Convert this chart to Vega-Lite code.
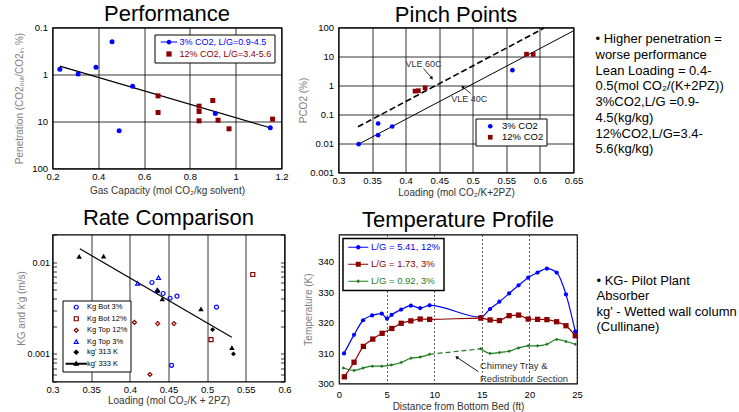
{
  "$schema": "https://vega.github.io/schema/vega-lite/v6.json",
  "padding": {"left": 13.5, "top": 1.5, "right": 0, "bottom": 0},
  "background": "white",
  "spacing": 7,
  "datasets": {
    "perf": [
      {"gc": 0.232, "pen": 0.77, "series": "3% CO2, L/G=0.9-4.5"},
      {"gc": 0.312, "pen": 0.97, "series": "3% CO2, L/G=0.9-4.5"},
      {"gc": 0.39, "pen": 0.70, "series": "3% CO2, L/G=0.9-4.5"},
      {"gc": 0.46, "pen": 0.20, "series": "3% CO2, L/G=0.9-4.5"},
      {"gc": 0.55, "pen": 1.77, "series": "3% CO2, L/G=0.9-4.5"},
      {"gc": 0.491, "pen": 15.8, "series": "3% CO2, L/G=0.9-4.5"},
      {"gc": 0.911, "pen": 6.76, "series": "3% CO2, L/G=0.9-4.5"},
      {"gc": 1.151, "pen": 13.6, "series": "3% CO2, L/G=0.9-4.5"},
      {"gc": 0.661, "pen": 2.85, "series": "12% CO2, L/G=3.4-5.6"},
      {"gc": 0.661, "pen": 6.44, "series": "12% CO2, L/G=3.4-5.6"},
      {"gc": 0.84, "pen": 4.72, "series": "12% CO2, L/G=3.4-5.6"},
      {"gc": 0.84, "pen": 6.12, "series": "12% CO2, L/G=3.4-5.6"},
      {"gc": 0.84, "pen": 9.68, "series": "12% CO2, L/G=3.4-5.6"},
      {"gc": 0.90, "pen": 3.57, "series": "12% CO2, L/G=3.4-5.6"},
      {"gc": 0.923, "pen": 9.37, "series": "12% CO2, L/G=3.4-5.6"},
      {"gc": 0.971, "pen": 14.3, "series": "12% CO2, L/G=3.4-5.6"},
      {"gc": 1.161, "pen": 8.9, "series": "12% CO2, L/G=3.4-5.6"}
    ],
    "rate": [
      {"load": 0.4286, "k": 0.0060, "series": "Kg Bot 3%"},
      {"load": 0.443, "k": 0.00455, "series": "Kg Bot 3%"},
      {"load": 0.452, "k": 0.00404, "series": "Kg Bot 3%"},
      {"load": 0.461, "k": 0.00426, "series": "Kg Bot 3%"},
      {"load": 0.512, "k": 0.00323, "series": "Kg Bot 3%"},
      {"load": 0.454, "k": 0.00075, "series": "Kg Bot 3%"},
      {"load": 0.559, "k": 0.00733, "series": "Kg Bot 12%"},
      {"load": 0.505, "k": 0.00143, "series": "Kg Bot 12%"},
      {"load": 0.406, "k": 0.0022, "series": "Kg Top 12%"},
      {"load": 0.436, "k": 0.00214, "series": "Kg Top 12%"},
      {"load": 0.457, "k": 0.00214, "series": "Kg Top 12%"},
      {"load": 0.426, "k": 0.000596, "series": "Kg Top 12%"},
      {"load": 0.41, "k": 0.00585, "series": "Kg Top 3%"},
      {"load": 0.437, "k": 0.00675, "series": "Kg Top 3%"},
      {"load": 0.435, "k": 0.0049, "series": "Kg Top 3%"},
      {"load": 0.436, "k": 0.00483, "series": "kg' 313 K"},
      {"load": 0.507, "k": 0.00184, "series": "kg' 313 K"},
      {"load": 0.534, "k": 0.001, "series": "kg' 313 K"},
      {"load": 0.3345, "k": 0.01153, "series": "kg' 333 K"},
      {"load": 0.366, "k": 0.0116, "series": "kg' 333 K"},
      {"load": 0.436, "k": 0.00499, "series": "kg' 333 K"},
      {"load": 0.442, "k": 0.00398, "series": "kg' 333 K"},
      {"load": 0.492, "k": 0.0031, "series": "kg' 333 K"},
      {"load": 0.532, "k": 0.00117, "series": "kg' 333 K"}
    ],
    "temp": [
      {"series": "L/G = 5.41, 12%", "bed": "lower", "d": 0.53, "T": 309.9},
      {"series": "L/G = 5.41, 12%", "bed": "lower", "d": 1.58, "T": 316.0},
      {"series": "L/G = 5.41, 12%", "bed": "lower", "d": 2.53, "T": 320.8},
      {"series": "L/G = 5.41, 12%", "bed": "lower", "d": 3.48, "T": 322.4},
      {"series": "L/G = 5.41, 12%", "bed": "lower", "d": 4.49, "T": 323.0},
      {"series": "L/G = 5.41, 12%", "bed": "lower", "d": 5.04, "T": 321.3},
      {"series": "L/G = 5.41, 12%", "bed": "lower", "d": 5.53, "T": 322.6},
      {"series": "L/G = 5.41, 12%", "bed": "lower", "d": 6.53, "T": 324.3},
      {"series": "L/G = 5.41, 12%", "bed": "lower", "d": 7.55, "T": 325.6},
      {"series": "L/G = 5.41, 12%", "bed": "lower", "d": 8.53, "T": 324.8},
      {"series": "L/G = 5.41, 12%", "bed": "lower", "d": 9.52, "T": 325.7},
      {"series": "L/G = 5.41, 12%", "bed": "upper", "d": 14.89, "T": 321.8},
      {"series": "L/G = 5.41, 12%", "bed": "upper", "d": 15.87, "T": 324.5},
      {"series": "L/G = 5.41, 12%", "bed": "upper", "d": 16.85, "T": 326.9},
      {"series": "L/G = 5.41, 12%", "bed": "upper", "d": 17.87, "T": 329.6},
      {"series": "L/G = 5.41, 12%", "bed": "upper", "d": 18.86, "T": 332.3},
      {"series": "L/G = 5.41, 12%", "bed": "upper", "d": 19.87, "T": 334.8},
      {"series": "L/G = 5.41, 12%", "bed": "upper", "d": 20.86, "T": 336.5},
      {"series": "L/G = 5.41, 12%", "bed": "upper", "d": 21.84, "T": 337.8},
      {"series": "L/G = 5.41, 12%", "bed": "upper", "d": 22.86, "T": 336.5},
      {"series": "L/G = 5.41, 12%", "bed": "upper", "d": 23.84, "T": 329.3},
      {"series": "L/G = 5.41, 12%", "bed": "upper", "d": 24.82, "T": 317.1},
      {"series": "L/G = 1.73, 3%", "bed": "lower", "d": 0.56, "T": 302.2},
      {"series": "L/G = 1.73, 3%", "bed": "lower", "d": 1.58, "T": 307.0},
      {"series": "L/G = 1.73, 3%", "bed": "lower", "d": 2.56, "T": 312.2},
      {"series": "L/G = 1.73, 3%", "bed": "lower", "d": 3.55, "T": 314.6},
      {"series": "L/G = 1.73, 3%", "bed": "lower", "d": 4.53, "T": 316.5},
      {"series": "L/G = 1.73, 3%", "bed": "lower", "d": 5.55, "T": 318.1},
      {"series": "L/G = 1.73, 3%", "bed": "lower", "d": 6.53, "T": 319.8},
      {"series": "L/G = 1.73, 3%", "bed": "lower", "d": 7.55, "T": 320.6},
      {"series": "L/G = 1.73, 3%", "bed": "lower", "d": 8.53, "T": 321.2},
      {"series": "L/G = 1.73, 3%", "bed": "lower", "d": 9.52, "T": 321.1},
      {"series": "L/G = 1.73, 3%", "bed": "upper", "d": 14.89, "T": 321.5},
      {"series": "L/G = 1.73, 3%", "bed": "upper", "d": 15.87, "T": 320.9},
      {"series": "L/G = 1.73, 3%", "bed": "upper", "d": 16.85, "T": 320.7},
      {"series": "L/G = 1.73, 3%", "bed": "upper", "d": 17.87, "T": 322.3},
      {"series": "L/G = 1.73, 3%", "bed": "upper", "d": 18.86, "T": 322.5},
      {"series": "L/G = 1.73, 3%", "bed": "upper", "d": 19.87, "T": 321.2},
      {"series": "L/G = 1.73, 3%", "bed": "upper", "d": 20.86, "T": 321.1},
      {"series": "L/G = 1.73, 3%", "bed": "upper", "d": 21.84, "T": 321.0},
      {"series": "L/G = 1.73, 3%", "bed": "upper", "d": 22.86, "T": 320.3},
      {"series": "L/G = 1.73, 3%", "bed": "upper", "d": 23.84, "T": 319.0},
      {"series": "L/G = 1.73, 3%", "bed": "upper", "d": 24.82, "T": 315.7},
      {"series": "L/G = 0.92, 3%", "bed": "lower", "d": 0.46, "T": 305.1},
      {"series": "L/G = 0.92, 3%", "bed": "lower", "d": 1.58, "T": 304.3},
      {"series": "L/G = 0.92, 3%", "bed": "lower", "d": 2.53, "T": 305.1},
      {"series": "L/G = 0.92, 3%", "bed": "lower", "d": 3.51, "T": 305.7},
      {"series": "L/G = 0.92, 3%", "bed": "lower", "d": 4.49, "T": 305.7},
      {"series": "L/G = 0.92, 3%", "bed": "lower", "d": 5.51, "T": 306.1},
      {"series": "L/G = 0.92, 3%", "bed": "lower", "d": 6.53, "T": 306.9},
      {"series": "L/G = 0.92, 3%", "bed": "lower", "d": 7.55, "T": 308.3},
      {"series": "L/G = 0.92, 3%", "bed": "lower", "d": 8.53, "T": 308.7},
      {"series": "L/G = 0.92, 3%", "bed": "lower", "d": 9.52, "T": 309.6},
      {"series": "L/G = 0.92, 3%", "bed": "upper", "d": 14.89, "T": 311.4},
      {"series": "L/G = 0.92, 3%", "bed": "upper", "d": 15.87, "T": 309.9},
      {"series": "L/G = 0.92, 3%", "bed": "upper", "d": 16.85, "T": 310.2},
      {"series": "L/G = 0.92, 3%", "bed": "upper", "d": 17.87, "T": 310.6},
      {"series": "L/G = 0.92, 3%", "bed": "upper", "d": 18.86, "T": 311.7},
      {"series": "L/G = 0.92, 3%", "bed": "upper", "d": 19.87, "T": 312.4},
      {"series": "L/G = 0.92, 3%", "bed": "upper", "d": 20.86, "T": 312.4},
      {"series": "L/G = 0.92, 3%", "bed": "upper", "d": 21.84, "T": 312.9},
      {"series": "L/G = 0.92, 3%", "bed": "upper", "d": 22.86, "T": 314.5},
      {"series": "L/G = 0.92, 3%", "bed": "upper", "d": 23.84, "T": 313.8},
      {"series": "L/G = 0.92, 3%", "bed": "upper", "d": 24.82, "T": 312.9}
    ]
  },
  "resolve": {"scale": {"color": "independent", "shape": "independent", "fill": "independent", "stroke": "independent", "size": "independent", "strokeDash": "independent"}, "legend": {"color": "independent", "shape": "independent", "fill": "independent", "stroke": "independent", "size": "independent", "strokeDash": "independent"}},
  "config": {
    "font": "Liberation Sans",
    "view": {"stroke": "black", "strokeWidth": 1.2},
    "axis": {
      "labelFont": "Liberation Sans", "labelFontSize": 9.5, "labelColor": "black",
      "titleFont": "Liberation Sans", "titleFontSize": 10, "titleFontWeight": "normal", "titleColor": "#333333",
      "domain": false, "ticks": false, "gridColor": "black", "gridWidth": 0.8, "gridOpacity": 1,
      "labelFlush": false, "labelOverlap": false
    },
    "axisY": {"titleColor": "#808080"},
    "title": {"font": "Liberation Sans", "fontSize": 22, "fontWeight": "normal", "color": "black", "anchor": "middle", "frame": "group", "baseline": "alphabetic"},
    "legend": {"labelFont": "Liberation Sans", "titleFont": "Liberation Sans"}
  },
  "vconcat": [
    {
      "spacing": 8,
      "resolve": {"scale": {"color": "independent", "shape": "independent", "fill": "independent", "stroke": "independent", "size": "independent", "strokeDash": "independent"}, "legend": {"color": "independent", "shape": "independent", "fill": "independent", "stroke": "independent", "size": "independent", "strokeDash": "independent"}},
      "hconcat": [
        {
          "title": {"text": "Performance", "offset": -3},
          "width": 229, "height": 141,
          "encoding": {
            "x": {"field": "gc", "type": "quantitative", "scale": {"domain": [0.2, 1.2], "nice": false, "zero": false},
                  "axis": {"values": [0.2, 0.4, 0.6, 0.8, 1, 1.2], "format": "~g", "title": "Gas Capacity (mol CO₂/kg solvent)", "labelPadding": 3.3, "minExtent": 13, "maxExtent": 13, "titlePadding": 4}},
            "y": {"field": "pen", "type": "quantitative", "scale": {"type": "log", "domain": [0.1, 100], "reverse": true, "nice": false},
                  "axis": {"values": [0.1, 1, 10, 100], "format": "~g", "title": "Penetration (CO2ₒᵤₜ/CO2ᵢₙ %)", "labelPadding": 5, "minExtent": 22, "maxExtent": 22, "titlePadding": 6}}
          },
          "layer": [
            {
              "data": {"values": [{"gc": 0.232, "pen": 0.665}, {"gc": 1.151, "pen": 13.6}]},
              "mark": {"type": "line", "color": "black", "strokeWidth": 1.2}
            },
            {
              "data": {"name": "perf"},
              "mark": {"type": "point", "filled": true, "opacity": 0},
              "encoding": {
                "color": {"field": "series", "type": "nominal",
                  "scale": {"domain": ["3% CO2, L/G=0.9-4.5", "12% CO2, L/G=3.4-5.6"], "range": ["#0000ff", "#8b0000"]},
                  "legend": {"title": null, "orient": "top-right", "offset": 7, "fillColor": "white", "strokeColor": "black", "padding": 3,
                    "labelFontSize": 9, "symbolSize": 25, "symbolOpacity": 1, "symbolStrokeWidth": 0, "symbolOffset": 7, "labelOffset": 6, "rowPadding": 2,
                    "encode": {
                      "labels": {"update": {"fill": {"signal": "datum.value == '3% CO2, L/G=0.9-4.5' ? '#0000ff' : '#8b0000'"}}}
                    }}},
                "shape": {"field": "series", "type": "nominal",
                  "scale": {"domain": ["3% CO2, L/G=0.9-4.5", "12% CO2, L/G=3.4-5.6"],
                    "range": ["M-3.3,-0.2H3.3V0.2H-3.3Z M0.95,0A0.95,0.95,0,1,1,-0.95,0A0.95,0.95,0,1,1,0.95,0Z", "M-1.05,-1.05H1.05V1.05H-1.05Z"]}}
              }
            },
            {
              "data": {"name": "perf"},
              "transform": [{"filter": {"field": "series", "equal": "3% CO2, L/G=0.9-4.5"}}],
              "mark": {"type": "point", "filled": true, "opacity": 1, "size": 25, "shape": "circle", "color": "#0000ff"}
            },
            {
              "data": {"name": "perf"},
              "transform": [{"filter": {"field": "series", "equal": "12% CO2, L/G=3.4-5.6"}}],
              "mark": {"type": "point", "filled": true, "opacity": 1, "size": 25, "shape": "square", "color": "#8b0000"}
            }
          ]
        },
        {
          "title": {"text": "Pinch Points", "offset": -4},
          "width": 235, "height": 145,
          "encoding": {
            "x": {"field": "load", "type": "quantitative", "scale": {"domain": [0.3, 0.65], "nice": false, "zero": false},
                  "axis": {"values": [0.3, 0.35, 0.4, 0.45, 0.5, 0.55, 0.6, 0.65], "format": "~g", "title": "Loading (mol CO₂/K+2PZ)", "labelPadding": 2.5, "minExtent": 12, "maxExtent": 12, "titlePadding": 3}},
            "y": {"field": "p", "type": "quantitative", "scale": {"type": "log", "domain": [0.001, 100], "nice": false},
                  "axis": {"values": [0.001, 0.01, 0.1, 1, 10, 100], "format": "~g", "title": "PCO2 (%)", "labelPadding": 5, "minExtent": 29, "maxExtent": 29, "titlePadding": 1}}
          },
          "layer": [
            {
              "data": {"values": [{"load": 0.33, "p": 0.0095}, {"load": 0.65, "p": 76.7}]},
              "mark": {"type": "line", "color": "black", "strokeWidth": 1}
            },
            {
              "data": {"values": [{"load": 0.329, "p": 0.0376}, {"load": 0.606, "p": 95}]},
              "mark": {"type": "line", "color": "black", "strokeWidth": 1.6, "strokeDash": [6, 3]}
            },
            {
              "data": {"values": [
                {"load": 0.4266, "p": 3.85, "load2": 0.439, "p2": 1.79},
                {"load": 0.497, "p": 0.53, "load2": 0.4847, "p2": 0.90}
              ]},
              "mark": {"type": "rule", "color": "black", "strokeWidth": 0.8},
              "encoding": {"x2": {"field": "load2"}, "y2": {"field": "p2"}}
            },
            {
              "data": {"values": [{"load": 0.439, "p": 1.79}]},
              "mark": {"type": "point", "shape": "triangle-up", "filled": true, "color": "black", "opacity": 1, "size": 14, "angle": 139}
            },
            {
              "data": {"values": [{"load": 0.4847, "p": 0.90}]},
              "mark": {"type": "point", "shape": "triangle-up", "filled": true, "color": "black", "opacity": 1, "size": 14, "angle": 309}
            },
            {
              "data": {"values": [
                {"load": 0.4266, "p": 5.45, "label": "VLE 60C"},
                {"load": 0.4946, "p": 0.338, "label": "VLE 40C"}
              ]},
              "mark": {"type": "text", "fontSize": 9, "color": "#333333", "align": "center", "baseline": "middle"},
              "encoding": {"text": {"field": "label"}}
            },
            {
              "data": {"values": [
                {"load": 0.330, "p": 0.0095, "series": "3% CO2"},
                {"load": 0.359, "p": 0.049, "series": "3% CO2"},
                {"load": 0.359, "p": 0.0194, "series": "3% CO2"},
                {"load": 0.380, "p": 0.0386, "series": "3% CO2"},
                {"load": 0.559, "p": 3.38, "series": "3% CO2"},
                {"load": 0.414, "p": 0.64, "series": "12% CO2"},
                {"load": 0.419, "p": 0.66, "series": "12% CO2"},
                {"load": 0.429, "p": 0.83, "series": "12% CO2"},
                {"load": 0.580, "p": 12.0, "series": "12% CO2"},
                {"load": 0.590, "p": 11.8, "series": "12% CO2"}
              ]},
              "mark": {"type": "point", "filled": true, "opacity": 1, "size": 22},
              "encoding": {
                "color": {"field": "series", "type": "nominal",
                  "scale": {"domain": ["3% CO2", "12% CO2"], "range": ["#0000ff", "#8b0000"]},
                  "legend": {"title": null, "orient": "bottom-right", "offset": 27, "fillColor": "white", "strokeColor": "black", "padding": 3,
                    "labelFontSize": 9.5, "symbolSize": 22, "symbolOffset": 7, "labelOffset": 7, "rowPadding": 0,
                    "encode": {
                      "labels": {"update": {"fill": {"signal": "datum.value == '3% CO2' ? '#0000ff' : '#8b0000'"}}}
                    }}},
                "shape": {"field": "series", "type": "nominal",
                  "scale": {"domain": ["3% CO2", "12% CO2"], "range": ["circle", "square"]}, "legend": null}
              }
            }
          ]
        },
        {
          "width": 140, "height": 150,
          "view": {"stroke": null},
          "data": {"values": [
            {"line": 0, "text": "• Higher penetration ="},
            {"line": 1, "text": "worse performance"},
            {"line": 2, "text": "\u00a0Lean Loading = 0.4-"},
            {"line": 3, "text": "0.5(mol CO₂/(K+2PZ))"},
            {"line": 4, "text": "\u00a03%CO2,L/G =0.9-"},
            {"line": 5, "text": "4.5(kg/kg)"},
            {"line": 6, "text": "\u00a012%CO2,L/G=3.4-"},
            {"line": 7, "text": "5.6(kg/kg)"}
          ]},
          "mark": {"type": "text", "align": "left", "baseline": "middle", "fontSize": 13, "font": "Liberation Sans", "color": "black", "dx": 4},
          "encoding": {
            "x": {"datum": 0, "type": "quantitative", "scale": {"domain": [0, 1]}, "axis": null},
            "y": {"field": "line", "type": "quantitative", "scale": {"domain": [-0.75, 8.8], "reverse": true, "nice": false, "zero": false}, "axis": null},
            "text": {"field": "text"}
          }
        }
      ]
    },
    {
      "spacing": 9.5,
      "resolve": {"scale": {"color": "independent", "shape": "independent", "fill": "independent", "stroke": "independent", "size": "independent", "strokeDash": "independent"}, "legend": {"color": "independent", "shape": "independent", "fill": "independent", "stroke": "independent", "size": "independent", "strokeDash": "independent"}},
      "hconcat": [
        {
          "title": {"text": "Rate Comparison", "offset": 1},
          "width": 232, "height": 147,
          "resolve": {"axis": {"y": "independent"}},
          "encoding": {
            "x": {"field": "load", "type": "quantitative", "scale": {"domain": [0.3, 0.6], "nice": false, "zero": false},
                  "axis": {"values": [0.3, 0.35, 0.4, 0.45, 0.5, 0.55, 0.6], "format": "~g", "title": "Loading (mol CO₂/K + 2PZ)", "labelPadding": 3.3, "minExtent": 13, "maxExtent": 13, "titlePadding": 1}}
          },
          "layer": [
            {
              "data": {"values": [{"load": 0.3354, "k": 0.01397}, {"load": 0.5318, "k": 0.00152}]},
              "mark": {"type": "line", "color": "black", "strokeWidth": 1.2},
              "encoding": {
                "y": {"field": "k", "type": "quantitative", "scale": {"type": "log", "domain": [0.0005, 0.02], "nice": false},
                  "axis": {"orient": "right", "values": [0.0005, 0.0006, 0.0007, 0.0008, 0.0009, 0.001, 0.002, 0.003, 0.004, 0.005, 0.006, 0.007, 0.008, 0.009, 0.01, 0.02],
                    "labels": false, "ticks": true, "tickSize": 4, "offset": -4, "tickColor": "black", "tickWidth": 0.8, "grid": false, "title": null, "minExtent": 0, "maxExtent": 0}}
              }
            },
            {
              "data": {"name": "rate"},
              "mark": {"type": "point", "opacity": 0, "filled": false, "strokeWidth": 1.2},
              "encoding": {
                "y": {"field": "k", "type": "quantitative", "scale": {"type": "log", "domain": [0.0005, 0.02], "nice": false},
                  "axis": {"orient": "left", "values": [0.0005, 0.0006, 0.0007, 0.0008, 0.0009, 0.001, 0.002, 0.003, 0.004, 0.005, 0.006, 0.007, 0.008, 0.009, 0.01, 0.02],
                    "format": "~g", "labelExpr": "datum.value == 0.001 || datum.value == 0.01 ? datum.label : ''",
                    "ticks": true, "tickSize": 4, "offset": -4, "tickColor": "black", "tickWidth": 0.8,
                    "gridOpacity": {"condition": {"test": "datum.value == 0.001 || datum.value == 0.01", "value": 1}, "value": 0},
                    "labelFontSize": 9, "title": "KG and k'g (m/s)", "labelPadding": 3, "minExtent": 26, "maxExtent": 26, "titlePadding": 4}},
                "color": {"field": "series", "type": "nominal",
                  "scale": {"domain": ["Kg Bot 3%", "Kg Bot 12%", "Kg Top 12%", "Kg Top 3%", "kg' 313 K", "kg' 333 K"], "range": ["#0000ff", "#8b0000", "#8b0000", "#0000ff", "black", "black"]},
                  "legend": {"title": null, "orient": "bottom-left", "offset": 10, "fillColor": "white", "strokeColor": "black", "padding": 3,
                    "labelFontSize": 7.5, "symbolSize": 16, "symbolOpacity": 1, "symbolStrokeWidth": 1.2, "symbolOffset": 7, "labelOffset": 7, "rowPadding": 1.5,
                    "encode": {
                      "labels": {"update": {"fill": {"signal": "indexOf(datum.value, 'kg') == 0 ? 'black' : indexOf(datum.value, '12%') > 0 ? '#8b0000' : '#0000ff'"}}}
                    }}},
                "fill": {"field": "series", "type": "nominal",
                  "scale": {"domain": ["Kg Bot 3%", "Kg Bot 12%", "Kg Top 12%", "Kg Top 3%", "kg' 313 K", "kg' 333 K"], "range": ["transparent", "transparent", "transparent", "transparent", "black", "black"]}},
                "shape": {"field": "series", "type": "nominal",
                  "scale": {"domain": ["Kg Bot 3%", "Kg Bot 12%", "Kg Top 12%", "Kg Top 3%", "kg' 313 K", "kg' 333 K"], "range": ["circle", "square", "diamond", "triangle-up", "diamond", "M-5,-0.15H5V0.15H-5Z M0,-1L1,0.75H-1Z"]}}
              }
            },
            {
              "data": {"name": "rate"},
              "transform": [{"filter": {"field": "series", "equal": "Kg Bot 3%"}}],
              "mark": {"type": "point", "opacity": 1, "size": 16, "strokeWidth": 1.2, "filled": false, "shape": "circle", "color": "#0000ff"},
              "encoding": {"y": {"field": "k", "type": "quantitative", "axis": null}}
            },
            {
              "data": {"name": "rate"},
              "transform": [{"filter": {"field": "series", "equal": "Kg Bot 12%"}}],
              "mark": {"type": "point", "opacity": 1, "size": 16, "strokeWidth": 1.2, "filled": false, "shape": "square", "color": "#8b0000"},
              "encoding": {"y": {"field": "k", "type": "quantitative", "axis": null}}
            },
            {
              "data": {"name": "rate"},
              "transform": [{"filter": {"field": "series", "equal": "Kg Top 12%"}}],
              "mark": {"type": "point", "opacity": 1, "size": 16, "strokeWidth": 1.2, "filled": false, "shape": "diamond", "color": "#8b0000"},
              "encoding": {"y": {"field": "k", "type": "quantitative", "axis": null}}
            },
            {
              "data": {"name": "rate"},
              "transform": [{"filter": {"field": "series", "equal": "Kg Top 3%"}}],
              "mark": {"type": "point", "opacity": 1, "size": 16, "strokeWidth": 1.2, "filled": false, "shape": "triangle-up", "color": "#0000ff"},
              "encoding": {"y": {"field": "k", "type": "quantitative", "axis": null}}
            },
            {
              "data": {"name": "rate"},
              "transform": [{"filter": {"field": "series", "equal": "kg' 313 K"}}],
              "mark": {"type": "point", "opacity": 1, "size": 24, "filled": true, "shape": "diamond", "color": "black"},
              "encoding": {"y": {"field": "k", "type": "quantitative", "axis": null}}
            },
            {
              "data": {"name": "rate"},
              "transform": [{"filter": {"field": "series", "equal": "kg' 333 K"}}],
              "mark": {"type": "point", "opacity": 1, "size": 30, "filled": true, "shape": "triangle-up", "color": "black"},
              "encoding": {"y": {"field": "k", "type": "quantitative", "axis": null}}
            }
          ]
        },
        {
          "title": {"text": "Temperature Profile", "offset": 2.7},
          "width": 238, "height": 149,
          "encoding": {
            "x": {"field": "d", "type": "quantitative", "scale": {"domain": [0, 25], "nice": false, "zero": false},
                  "axis": {"values": [0, 5, 10, 15, 20, 25], "title": "Distance from Bottom Bed (ft)", "gridDash": [2, 2], "gridColor": "#333333", "labelPadding": 5.5, "minExtent": 15, "maxExtent": 15, "titlePadding": 3}},
            "y": {"field": "T", "type": "quantitative", "scale": {"domain": [300, 349], "nice": false, "zero": false},
                  "axis": {"values": [300, 310, 320, 330, 340], "grid": false, "title": "Temperature (K)", "labelPadding": 5.5, "minExtent": 21.5, "maxExtent": 21.5, "titlePadding": 4}}
          },
          "layer": [
            {
              "data": {"name": "temp"},
              "transform": [{"filter": {"field": "series", "equal": "L/G = 5.41, 12%"}}],
              "mark": {"type": "line", "interpolate": "monotone", "strokeWidth": 1.2, "color": "#0000ff"}
            },
            {
              "data": {"name": "temp"},
              "transform": [{"filter": {"field": "series", "equal": "L/G = 1.73, 3%"}}],
              "mark": {"type": "line", "interpolate": "monotone", "strokeWidth": 1.2, "color": "#8b0000"}
            },
            {
              "data": {"name": "temp"},
              "transform": [{"filter": {"field": "series", "equal": "L/G = 0.92, 3%"}}],
              "mark": {"type": "line", "interpolate": "monotone", "strokeWidth": 1.2, "color": "#1e7b1e"},
              "encoding": {"detail": {"field": "bed"}}
            },
            {
              "data": {"values": [
                {"d": 9.52, "T": 309.6},
                {"d": 14.89, "T": 311.4}
              ]},
              "mark": {"type": "line", "strokeWidth": 1.2, "color": "#1e7b1e", "strokeDash": [5, 3]}
            },
            {
              "data": {"name": "temp"},
              "mark": {"type": "point", "filled": true, "opacity": 0},
              "encoding": {
                "color": {"field": "series", "type": "nominal",
                  "scale": {"domain": ["L/G = 5.41, 12%", "L/G = 1.73, 3%", "L/G = 0.92, 3%"], "range": ["#0000ff", "#8b0000", "#1e7b1e"]},
                  "legend": {"title": null, "orient": "top-left", "offset": 4, "fillColor": "white", "strokeColor": "black", "padding": 4,
                    "labelFontSize": 9.5, "symbolSize": 25, "symbolOpacity": 1, "symbolStrokeWidth": 0, "symbolOffset": 6.5, "labelOffset": 8, "rowPadding": 6,
                    "encode": {
                      "legend": {"update": {"strokeWidth": {"value": 1.5}}},
                      "labels": {"update": {"fill": {"signal": "datum.value == 'L/G = 5.41, 12%' ? '#0000ff' : datum.value == 'L/G = 1.73, 3%' ? '#8b0000' : '#1e7b1e'"}}}
                    }}},
                "shape": {"field": "series", "type": "nominal",
                  "scale": {"domain": ["L/G = 5.41, 12%", "L/G = 1.73, 3%", "L/G = 0.92, 3%"],
                    "range": ["M-4,-0.22H4V0.22H-4Z M0.9,0A0.9,0.9,0,1,1,-0.9,0A0.9,0.9,0,1,1,0.9,0Z", "M-4,-0.22H4V0.22H-4Z M-1,-1H1V1H-1Z", "M-4,-0.2H4V0.2H-4Z M0,-0.8L0.8,0L0,0.8L-0.8,0Z"]}}
              }
            },
            {
              "data": {"name": "temp"},
              "transform": [{"filter": {"field": "series", "equal": "L/G = 5.41, 12%"}}],
              "mark": {"type": "point", "filled": true, "opacity": 1, "shape": "circle", "color": "#0000ff", "size": 18}
            },
            {
              "data": {"name": "temp"},
              "transform": [{"filter": {"field": "series", "equal": "L/G = 1.73, 3%"}}],
              "mark": {"type": "point", "filled": true, "opacity": 1, "shape": "square", "color": "#8b0000", "size": 28}
            },
            {
              "data": {"name": "temp"},
              "transform": [{"filter": {"field": "series", "equal": "L/G = 0.92, 3%"}}],
              "mark": {"type": "point", "filled": true, "opacity": 1, "shape": "diamond", "color": "#1e7b1e", "size": 12}
            },
            {
              "data": {"values": [{"d": 14.64, "T": 303.9, "d2": 12.36, "T2": 308.65}]},
              "mark": {"type": "rule", "color": "black", "strokeWidth": 0.9},
              "encoding": {"x2": {"field": "d2"}, "y2": {"field": "T2"}}
            },
            {
              "data": {"values": [{"d": 12.36, "T": 308.65}]},
              "mark": {"type": "point", "shape": "triangle-up", "filled": true, "color": "black", "opacity": 1, "size": 14, "angle": 304}
            },
            {
              "data": {"values": [
                {"d": 14.8, "T": 305.6, "label": "Chimney Tray &"},
                {"d": 14.8, "T": 301.5, "label": "Redistributor Section"}
              ]},
              "mark": {"type": "text", "fontSize": 9.5, "color": "#333333", "align": "left", "baseline": "middle"},
              "encoding": {"text": {"field": "label"}}
            }
          ]
        },
        {
          "width": 145, "height": 150,
          "view": {"stroke": null},
          "data": {"values": [
            {"line": 0, "text": "• KG- Pilot Plant"},
            {"line": 1, "text": "Absorber"},
            {"line": 2, "text": "\u00a0kg' - Wetted wall column"},
            {"line": 3, "text": "(Cullinane)"}
          ]},
          "mark": {"type": "text", "align": "left", "baseline": "middle", "fontSize": 13, "font": "Liberation Sans", "color": "black", "dx": -5},
          "encoding": {
            "x": {"datum": 0, "type": "quantitative", "scale": {"domain": [0, 1]}, "axis": null},
            "y": {"field": "line", "type": "quantitative", "scale": {"domain": [-3.04, 6.765], "reverse": true, "nice": false, "zero": false}, "axis": null},
            "text": {"field": "text"}
          }
        }
      ]
    }
  ]
}
